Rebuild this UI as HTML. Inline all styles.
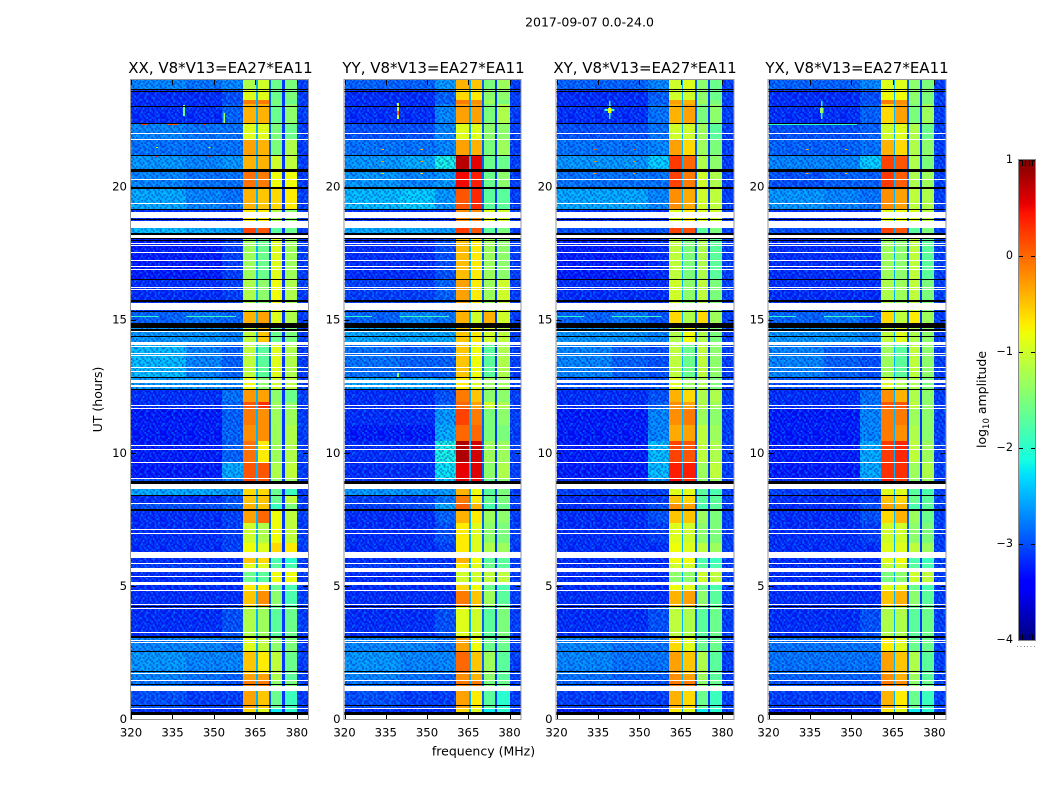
<!DOCTYPE html>
<html lang="en">
<head>
<meta charset="utf-8">
<title>2017-09-07 0.0-24.0</title>
<style>
html,body{margin:0;padding:0;background:#fff;}
svg{display:block;}
text{font-family:"DejaVu Sans","Liberation Sans",sans-serif;fill:#000;}
</style>
</head>
<body>
<svg id="chart" xmlns="http://www.w3.org/2000/svg" width="1050" height="800" viewBox="0 0 1050 800">
  <defs id="defs"></defs>
  <text x="589.5" y="26.5" font-size="12.5" text-anchor="middle">2017-09-07 0.0-24.0</text>
  <text x="483.5" y="755.5" font-size="12.5" text-anchor="middle">frequency (MHz)</text>
  <text x="0" y="0" font-size="12.5" text-anchor="middle" transform="translate(102,399.5) rotate(-90)">UT (hours)</text>
  <text x="0" y="0" font-size="12.5" text-anchor="middle" transform="translate(986,399.5) rotate(-90)">log<tspan font-size="8.5" dy="3">10</tspan><tspan dy="-3"> amplitude</tspan></text>
  <g id="panels"></g>
  <g id="colorbar"></g>
</svg>
<script>
// ---- Axis data ----
const freqEdges = [320, 340, 353, 360.5, 365.2, 365.9, 370, 370.7, 374.7, 375.6, 380, 384];
const freqTicks = [320, 335, 350, 365, 380];
const utTicks = [0, 5, 10, 15, 20];
const colorbarTicks = [1, 0, -1, -2, -3, -4];
const utEdges = [24, 23.66, 23.25, 23.1, 22.38, 21.75, 21.18, 20.54, 19.91, 19.12, 18.7, 18.25, 16.49, 15.29, 14.69, 14.16, 12.81, 12.36, 11.91, 11.64, 11.04, 10.44, 9.62, 9.05, 8.64, 8.41, 8.11, 7.81, 7.36, 6.61, 6.05, 5.86, 5.52, 5.15, 4.85, 4.21, 3.08, 2.52, 1.73, 1.43, 1.05, 0.41, 0];

// log10 amplitude per time row: [320-340, 340-353, 353-360, band1, band2, band3, band4]
const xxLevels = [
[-2.5,-2.6,-2.5,-1.2,-1.0,-1.6,-1.5],[-3,-3,-2.8,-.9,-.9,-1.6,-1.5],[-3,-3,-2.8,-.1,-.1,-1.5,-1.6],[-3,-3,-2.7,-.4,-.4,-1.6,-1.4],
[-2.5,-2.6,-2.6,-.9,-.9,-1.5,-1.6],[-2.6,-2.6,-2.6,-.3,-.4,-1.5,-1.2],[-2.4,-2.5,-2.4,-.4,-.4,-1.0,-1.1],[-2.5,-2.6,-2.6,-.05,-.1,-.8,-.8],
[-2.3,-2.5,-2.6,-.4,-.5,-.6,-.7],[-3,-3,-3,-.7,-.7,-1.2,-1.4],[-2.2,-2.3,-2.4,.2,.1,-1.7,-1.6],[-3.1,-3.1,-2.9,-1.3,-1.6,-.9,-1.3],
[-3,-3,-2.9,-1.2,-1.4,-.8,-1.2],[-2.7,-2.6,-2.7,-.4,-.3,-.9,-1.2],[-2.4,-2.4,-2.5,-1.1,-.5,-1.6,-1.5],[-2.2,-2.5,-2.7,-1.1,-1.7,-.9,-1.2],
[-2.4,-2.4,-2.5,-.8,-1.4,-1,-1.1],[-3,-3,-2.6,-.25,-.3,-1.4,-1.6],[-3,-3,-2.7,.1,.3,-1.3,-1.4],[-3.1,-3.1,-2.7,-.1,-.2,-1.3,-1.3],
[-3.1,-3.1,-2.7,-.2,-.2,-1.3,-1.2],[-3.1,-3.1,-2.7,-.05,-.7,-1.3,-1.2],[-3.1,-3.1,-2.3,.1,.1,-1.2,-1.1],[-2.8,-2.8,-2.6,.2,.1,-1.4,-1.3],
[-2.3,-2.3,-2.4,-.6,-.6,-1.6,-1.9],[-3,-3,-2.8,-.5,-.5,-1.6,-1.1],[-2.8,-2.8,-2.7,-.4,-.5,-1.9,-1.5],[-3,-3,-2.9,-.3,0,-.8,-1.1],
[-3,-3,-2.9,-1,-1.2,-.8,-1.1],[-3,-3,-2.9,-.8,-.9,-.6,-.7],[-3,-3,-3,-.5,-.6,-1.8,-2],[-2.9,-2.9,-2.9,-.9,-.9,-1.7,-1.8],
[-3,-3,-3,-1.6,-1.7,-.8,-.8],[-3,-3,-3,-.7,-.7,-1.6,-1.8],[-3,-3,-3,-.5,-.2,-1.4,-1.8],[-3,-3,-2.8,-1.2,-1.3,-1.7,-1.6],
[-2.5,-2.5,-2.6,-.9,-1.1,-1.4,-1.5],[-2.4,-2.5,-2.5,-.5,-.7,-1.1,-1.6],[-2.5,-2.6,-2.7,-.3,-.3,-1.2,-1.7],[-2.6,-2.7,-2.8,-.1,-.1,-1.4,-1.5],
[-2.8,-2.9,-2.9,-.3,-.5,-1.6,-1.9],[-3,-3,-3,-.6,-.9,-2.2,-2]];
const yyLevels = [
[-2.7,-2.7,-2.4,-.4,-.5,-1.5,-1.3],[-3,-3,-2.7,-.6,-.7,-1.4,-1.4],[-3,-3,-2.7,-.1,-.2,-1.3,-1.5],[-3,-3,-2.5,-.3,-.3,-1.5,-1.2],
[-2.8,-2.8,-2.5,-.9,-.9,-1.4,-1.4],[-2.6,-2.6,-2.5,-.3,-.4,-1.5,-1.3],[-2.4,-2.3,-1.9,.75,.55,-1.6,-1.6],[-2.4,-2.5,-2.4,.5,.4,-1.6,-1.4],
[-2.2,-2.1,-2.4,.1,.35,-1.7,-1.7],[-3,-3,-3,-.2,-.2,-.9,-1.0],[-2.3,-2.3,-2.4,.25,.1,-1.7,-1.5],[-3,-3,-2.8,-.45,-.7,-1.3,-1.4],
[-2.9,-2.9,-2.7,-.3,-.7,-1.3,-1.0],[-2.7,-2.5,-2.6,-.4,-1.0,-.4,-1.0],[-2.3,-2.3,-2.3,-.5,-.7,-1.0,-1.1],[-2.6,-2.7,-2.7,-.5,-.8,-1.7,-1.2],
[-2.3,-2.3,-2.4,-.7,-.9,-1.3,-1.3],[-3,-3,-2.8,-.1,-.5,-1.4,-1.4],[-3,-3,-2.7,0,-.3,-1.0,-1.2],[-3,-3,-2.4,.2,-.1,-1.5,-1.4],
[-3.1,-3.1,-2.3,0,0,-1.5,-1.5],[-3,-3,-1.9,.8,.65,-1.3,-1.3],[-3,-3,-2.0,.55,.6,-1.4,-1.2],[-3,-3,-2.2,.6,.5,-1.6,-1.4],
[-2.4,-2.4,-2.4,-.4,-.8,-1.7,-1.5],[-2.9,-2.9,-2.6,-.1,-.7,-1.6,-1.5],[-2.9,-2.8,-2.3,.05,-.4,-1.8,-1.6],[-3,-3,-2.7,-.4,-.7,-1.3,-1.4],
[-3,-3,-2.8,-.7,-.9,-1.4,-1.5],[-3,-3,-2.9,-.7,-.9,-1.2,-1.3],[-3,-3,-3,-.4,-.8,-1.7,-1.7],[-2.9,-2.9,-2.9,-.7,-.9,-1.6,-1.7],
[-3,-3,-3,-1,-1,-1.1,-1.1],[-3,-3,-3,-.6,-.8,-1.6,-1.8],[-3,-3,-3,-.1,-.5,-1.3,-1.7],[-3,-3,-2.8,-.9,-1.0,-1.7,-1.5],
[-2.5,-2.5,-2.6,-.3,-.8,-1.6,-1.6],[-2.4,-2.5,-2.5,0,-.5,-1.3,-1.7],[-2.5,-2.6,-2.7,-.2,-.4,-1.4,-1.7],[-2.6,-2.7,-2.8,-.1,-.1,-1.5,-1.6],
[-2.8,-2.9,-2.9,-.3,-.7,-1.7,-2.0],[-3,-3,-3,-.6,-.9,-2.2,-2]];
const xyLevels = [
[-2.7,-2.7,-2.5,-1.0,-.9,-1.4,-1.6],[-3,-3,-2.7,-1.0,-1.0,-1.4,-1.6],[-3,-3,-2.7,-.3,-.4,-1.3,-1.5],[-3,-3,-2.6,-.4,-.3,-1.5,-1.4],
[-2.8,-2.8,-2.6,-1.0,-1.0,-1.3,-1.7],[-2.6,-2.6,-2.5,-.3,-.6,-1.3,-1.5],[-2.4,-2.4,-2.1,.25,0,-1.2,-1.4],[-2.6,-2.6,-2.6,.2,-.1,-1.0,-1.2],
[-2.3,-2.3,-2.5,-.2,-.35,-1.0,-1.1],[-3,-3,-3,-.9,-.7,-.9,-1.0],[-2.8,-2.8,-2.8,.2,.15,-1.7,-1.5],[-3.1,-3.1,-3,-1.1,-1.5,-1.2,-1.7],
[-3,-3,-3,-1.0,-1.4,-1.1,-1.5],[-2.7,-2.6,-2.8,-.6,-1.2,-.6,-1.3],[-2.4,-2.4,-2.5,-1.2,-.8,-1.2,-1.5],[-2.5,-2.7,-2.8,-1.1,-1.6,-1.1,-1.4],
[-2.8,-2.8,-2.8,-.9,-1.3,-1.2,-1.5],[-3,-3,-2.8,-.4,-.6,-1.2,-1.2],[-3,-3,-2.7,-.2,-.3,-1.2,-1.3],[-3.1,-3.1,-2.5,-.2,-.1,-1.3,-1.4],
[-3.1,-3.1,-2.5,-.35,-.3,-1.1,-1.3],[-3.1,-3.1,-2.2,.2,.1,-1.1,-1.2],[-3.1,-3.1,-2.2,.4,.4,-1.3,-1.1],[-3,-3,-2.5,.5,.3,-1.4,-1.3],
[-2.9,-2.9,-2.9,-.9,-.9,-1.7,-1.8],[-3,-3,-2.9,-.5,-.6,-1.7,-1.7],[-3,-3,-2.8,-.2,-.3,-1.8,-1.7],[-3,-3,-2.8,-.5,-.5,-1.3,-1.5],
[-3,-3,-2.9,-.9,-1.0,-1.4,-1.5],[-3,-3,-3,-.8,-.9,-1.1,-1.3],[-3,-3,-3,-.8,-.8,-1.8,-1.9],[-3,-3,-3,-1,-1,-1.7,-1.8],
[-3,-3,-3,-1.4,-1.4,-1,-1.1],[-3,-3,-3,-.8,-.9,-1.6,-1.8],[-3,-3,-3,-.4,-.3,-1.4,-1.7],[-3,-3,-2.8,-1.1,-1.2,-1.7,-1.6],
[-2.5,-2.6,-2.6,-.6,-.9,-1.6,-1.6],[-2.5,-2.6,-2.6,-.3,-.5,-1.2,-1.7],[-2.6,-2.7,-2.7,-.2,-.3,-1.3,-1.7],[-2.7,-2.8,-2.8,-.1,-.1,-1.4,-1.6],
[-2.9,-2.9,-2.9,-.4,-.6,-1.6,-1.9],[-3.1,-3.1,-3,-.7,-.9,-2.2,-2]];
const yxLevels = [
[-2.7,-2.7,-2.5,-.9,-.9,-1.4,-1.5],[-3,-3,-2.8,-.8,-.8,-1.4,-1.5],[-3,-3,-2.8,-.1,-.2,-1.4,-1.5],[-3,-3,-2.7,-.6,-.3,-1.5,-1.3],
[-2.8,-2.8,-2.7,-1,-.9,-1.2,-1.6],[-2.7,-2.7,-2.6,-.4,-.6,-1.2,-1.4],[-2.5,-2.5,-2.1,.2,.1,-1.2,-1.5],[-2.8,-2.7,-2.7,.25,.05,-1.2,-1.3],
[-2.4,-2.5,-2.6,-.2,-.3,-1.1,-1.2],[-3,-3,-3,-.9,-.8,-.9,-1.1],[-2.8,-2.8,-2.8,.2,.1,-1.7,-1.5],[-3,-3,-3,-1.3,-1.4,-1.1,-1.7],
[-3,-3,-3,-1.2,-1.3,-1.1,-1.5],[-2.7,-2.6,-2.8,-.6,-1.1,-.7,-1.3],[-2.4,-2.4,-2.5,-1.1,-.9,-1.2,-1.4],[-2.5,-2.7,-2.8,-1.3,-1.7,-1.1,-1.4],
[-2.8,-2.8,-2.8,-.9,-1.2,-1.2,-1.5],[-3,-3,-2.6,-.2,-.4,-1.2,-1.4],[-3,-3,-2.6,.1,.1,-1.1,-1.4],[-3.1,-3.1,-2.5,-.1,-.1,-1.3,-1.4],
[-3.1,-3.1,-2.5,-.1,-.2,-1.2,-1.4],[-3.1,-3.1,-2.3,.25,.35,-1.1,-1.3],[-3.1,-3.1,-2.3,.3,.3,-1.3,-1.2],[-3,-3,-2.6,.4,.2,-1.4,-1.3],
[-2.9,-2.9,-2.9,-.9,-.9,-1.7,-1.8],[-3,-3,-2.9,-.5,-.6,-1.6,-1.7],[-3,-3,-2.8,-.3,-.4,-1.8,-1.7],[-3,-3,-2.8,-.6,-.4,-1.3,-1.6],
[-3,-3,-2.9,-1.0,-1.0,-1.4,-1.5],[-3,-3,-3,-.9,-.9,-1.1,-1.3],[-3,-3,-3,-.9,-.8,-1.8,-1.9],[-3,-3,-3,-1.1,-1,-1.7,-1.8],
[-3,-3,-3,-1.5,-1.4,-1,-1.1],[-3,-3,-3,-.9,-.9,-1.6,-1.8],[-3,-3,-3,-.5,-.4,-1.4,-1.7],[-3,-3,-2.8,-1.2,-1.2,-1.7,-1.6],
[-2.6,-2.6,-2.6,-.7,-.9,-1.6,-1.6],[-2.6,-2.6,-2.6,-.3,-.5,-1.2,-1.7],[-2.7,-2.7,-2.7,-.2,-.4,-1.3,-1.7],[-2.8,-2.8,-2.8,-.1,-.2,-1.4,-1.6],
[-2.9,-2.9,-2.9,-.4,-.7,-1.6,-1.9],[-3.1,-3.1,-3,-.7,-.9,-2.2,-2]];

// log10 amplitude of the three notches between bands and of the 380-384 MHz edge
const gapLevels = [-2.5, -2.9, -3.1, -3.1];

// Flagged time ranges [from hour, to hour]
const whiteFlags = [[21.97,22.01],[21.75,21.78],[20.25,20.28],[19.34,19.38],[18.82,19.04],[18.44,18.7],[18.07,18.18],[17.84,17.88],[17.77,17.8],[17.5,17.54],[17.2,17.24],[16.98,17.01],[16.86,16.9],[16.19,16.23],[16.11,16.15],[15.38,15.62],[15.29,15.34],[14.53,14.57],[14.05,14.16],[13.97,14.01],[13.71,13.75],[13.63,13.67],[13.18,13.22],[13.03,13.07],[12.62,12.73],[12.47,12.54],[11.76,11.79],[11.64,11.68],[10.25,10.29],[10.1,10.14],[9.61,9.65],[9.01,9.05],[8.64,8.83],[8.08,8.11],[7.1,7.14],[6.95,6.99],[6.05,6.27],[5.82,5.86],[5.52,5.67],[5.33,5.37],[5.03,5.15],[4.81,4.85],[4.28,4.32],[4.13,4.17],[3.23,3.27],[3.08,3.12],[2.93,2.97],[2.85,2.89],[1.69,1.73],[1.43,1.46],[1.05,1.24],[0.38,0.41],[0,0.15]];
const blackFlags = [[23.62,23.66],[23.55,23.59],[23,23.04],[22.35,22.39],[21.16,21.2],[20.6,20.64],[20.53,20.57],[19.96,20],[19.89,19.93],[19.1,19.14],[18.74,18.78],[18.18,18.27],[18.01,18.05],[17.95,17.99],[16.47,16.51],[15.68,15.72],[15.27,15.31],[14.69,14.87],[14.59,14.63],[14.33,14.37],[12.79,12.83],[12.34,12.38],[8.83,8.93],[8.39,8.43],[7.81,7.89],[4.19,4.23],[3.06,3.1],[2.5,2.54],[1.75,1.79],[1.29,1.33],[0.47,0.51],[0.15,0.26]];

// Isolated interference marks: [freq from, freq to, hour from, hour to, log10 amplitude]
const xxInterference = [[338.8,339.6,22.65,23.05,-1.6],[353.4,354,22.4,22.75,-1.3],[324,326,22.3,22.34,.2],[333,337,22.3,22.34,.1],[346,347,22.3,22.34,.3],[320,330,15.08,15.12,-2],[340,358,15.08,15.12,-1.9],[329,329.8,21.1,21.14,.4],[348,348.8,21.1,21.14,.4],[329,329.8,21.45,21.49,-.8],[348,348.8,21.45,21.49,-.8]];
const yyInterference = [[339,339.8,22.55,23.15,-1],[339,339.8,22.68,22.85,.1],[320,330,15.08,15.12,-2],[340,358,15.08,15.12,-1.9],[333.4,334.4,21.38,21.42,-.4],[347.6,348.6,21.38,21.42,-.4],[333.4,334.4,20.93,20.97,-.4],[347.6,348.6,20.93,20.97,-.4],[333.4,334.4,20.48,20.52,-.6],[347.6,348.6,20.48,20.52,-.6],[339,339.8,12.8,12.98,-1.4]];
const xyInterference = [[339,339.5,22.55,23.2,-2],[337.4,341,22.82,22.9,-1.9],[338.7,339.9,22.76,22.96,-.8],[320,330,15.08,15.12,-2],[340,358,15.08,15.12,-1.9],[333.4,334.4,21.38,21.42,.1],[347.6,348.6,21.38,21.42,.1],[333.4,334.4,20.93,20.97,-.2],[347.6,348.6,20.93,20.97,-.2],[333.4,334.4,20.48,20.52,-.2],[347.6,348.6,20.48,20.52,-.2]];
const yxInterference = [[339,339.6,22.55,23.2,-2],[338.6,339.9,22.76,22.96,-1.3],[320,330,15.08,15.12,-2],[340,358,15.08,15.12,-1.9],[333.4,334.4,21.38,21.42,-.4],[347.6,348.6,21.38,21.42,-.4],[320,352,22.3,22.33,-2],[333.4,334.4,20.48,20.52,-.4],[347.6,348.6,20.48,20.52,-.4]];

const panelLabels = ['XX, V8*V13=EA27*EA11', 'YY, V8*V13=EA27*EA11', 'XY, V8*V13=EA27*EA11', 'YX, V8*V13=EA27*EA11'];
const panelLevels = [xxLevels, yyLevels, xyLevels, yxLevels];
const panelInterference = [xxInterference, yyInterference, xyInterference, yxInterference];

// Background grain texture (0 dark, 1 none, 2 light, 3 bright); purely visual, not data.
const grainTile = [
'1021130121013201','0112013102210110','2101201130120312','1013102011021201',
'0120113210130120','1201021012012103','2110130102310211','0132012110201021',
'1201103120121302','2011210013012011','1102031201102120','3120112021301012',
'0211301120120203','1102012031021120','2013120102113012','1120201310120201'];

// ---- Layout (pixels) ----
const plotTop = 80, plotBottom = 719;
const panelLeft = [131, 344.5, 556.5, 768.5];
const panelRight = [308, 520.5, 733.5, 945.5];
const titleCenter = [220.5, 433.5, 645, 857];
const cbLeft = 1019, cbRight = 1035, cbTop = 160, cbBottom = 640;
// Quiet-sky columns sit slightly below the row means once the grain brightens them.
const quietColumnBias = -0.2;
const NS = 'http://www.w3.org/2000/svg';
const chart = document.getElementById('chart');
const panelsG = document.getElementById('panels');
const cbG = document.getElementById('colorbar');

function svgEl(tag, attrs, parent) {
  const el = document.createElementNS(NS, tag);
  for (const k in attrs) el.setAttribute(k, attrs[k]);
  parent.appendChild(el);
  return el;
}
function lerpStops(stops, t) {
  if (t <= stops[0][0]) return stops[0][1];
  for (let i = 1; i < stops.length; i++) {
    if (t <= stops[i][0]) {
      const a = stops[i - 1], b = stops[i];
      return a[1] + (b[1] - a[1]) * (t - a[0]) / (b[0] - a[0]);
    }
  }
  return stops[stops.length - 1][1];
}
const jetR = [[0,0],[.35,0],[.66,1],[.89,1],[1,.5]];
const jetG = [[0,0],[.125,0],[.375,1],[.64,1],[.91,0],[1,0]];
const jetB = [[0,.5],[.11,1],[.34,1],[.65,0],[1,0]];
function colorOf(v) {
  const t = Math.min(1, Math.max(0, (v + 4) / 5));
  const c = s => Math.round(255 * lerpStops(s, t));
  return 'rgb(' + c(jetR) + ',' + c(jetG) + ',' + c(jetB) + ')';
}
function yOf(hour) {
  return plotBottom - hour * (plotBottom - plotTop) / 24;
}
function xOf(panel, freq) {
  return panelLeft[panel] + (freq - 320) * (panelRight[panel] - panelLeft[panel]) / 64;
}

// Grain pattern
const defs = document.getElementById('defs');
const cellW = 1.7, cellH = 1.8;
const pattern = svgEl('pattern', {id: 'grain', patternUnits: 'userSpaceOnUse', width: cellW * 16, height: cellH * 16}, defs);
const grainFill = {0: 'rgba(0,0,170,.45)', 2: 'rgba(0,150,255,.35)', 3: 'rgba(0,230,255,.4)'};
grainTile.forEach((line, j) => {
  for (let i = 0; i < line.length; i++) {
    if (line[i] !== '1') svgEl('rect', {x: i * cellW, y: j * cellH, width: cellW, height: cellH, fill: grainFill[line[i]]}, pattern);
  }
});

// Band/gap order across frequency columns: >=0 row value index, <0 gapLevels index
const columnSource = [0, 1, 2, 3, -1, 4, -2, 5, -3, 6, -4];

panelLabels.forEach((label, p) => {
  const g = svgEl('g', {'shape-rendering': 'crispEdges'}, panelsG);
  
  
  const L = panelLeft[p], R = panelRight[p];

  // Heatmap cells
  panelLevels[p].forEach((row, r) => {
    columnSource.forEach((src, c) => {
      const raw = src >= 0 ? row[src] : gapLevels[-src - 1];
      const v = (src >= 0 && src <= 2) ? raw + quietColumnBias : raw;
      const x0 = Math.round(xOf(p, freqEdges[c])), x1 = Math.round(xOf(p, freqEdges[c + 1]));
      const y0 = Math.round(yOf(utEdges[r])), y1 = Math.round(yOf(utEdges[r + 1]));
      const cell = svgEl('rect', {x: x0, y: y0, width: x1 - x0, height: y1 - y0, fill: colorOf(v)}, g);
      
      
    });
  });

  // Grain over the quiet background only
  const gx = Math.round(xOf(p, 360.5)), gr = Math.round(xOf(p, 380));
  const grainLeft = svgEl('rect', {x: L, y: plotTop, width: gx - L, height: plotBottom - plotTop, fill: 'url(#grain)'}, g);
  
  
  const grainRight = svgEl('rect', {x: gr, y: plotTop, width: R - gr, height: plotBottom - plotTop, fill: 'url(#grain)'}, g);
  
  

  // Interference marks
  panelInterference[p].forEach(m => {
    const y0 = Math.round(yOf(m[3]));
    const h = Math.max(1, Math.round(yOf(m[2])) - y0);
    const mark = svgEl('rect', {x: xOf(p, m[0]), y: y0, width: xOf(p, m[1]) - xOf(p, m[0]), height: h, fill: colorOf(m[4])}, g);
    
    
  });

  // Flags (snapped to whole pixels so one-pixel rows stay solid)
  whiteFlags.forEach(f => {
    const y0 = Math.round(yOf(f[1]));
    const h = Math.max(1, Math.round(yOf(f[0])) - y0);
    const flag = svgEl('rect', {x: L, y: y0, width: R - L, height: h, fill: '#fff'}, g);
    
    
  });
  blackFlags.forEach(f => {
    const y0 = Math.round(yOf(f[1]));
    const h = Math.max(1, Math.round(yOf(f[0])) - y0);
    const flag = svgEl('rect', {x: L, y: y0, width: R - L, height: h, fill: '#000'}, g);
    
    
  });

  // Ticks
  freqTicks.forEach(t => {
    const x = Math.round(xOf(p, t)) + .5;
    const top = svgEl('line', {x1: x, x2: x, y1: plotTop, y2: plotTop + 5, stroke: '#000'}, g);
    
    
    const bot = svgEl('line', {x1: x, x2: x, y1: plotBottom - 5, y2: plotBottom, stroke: '#000'}, g);
    
    
    const lab = svgEl('text', {x: xOf(p, t), y: 736.5, 'font-size': 11.7, 'text-anchor': 'middle'}, panelsG);
    lab.textContent = t;
    
    
  });
  utTicks.forEach(t => {
    const y = Math.round(yOf(t)) + .5;
    const left = svgEl('line', {x1: L, x2: L + 5, y1: y, y2: y, stroke: '#000'}, g);
    
    
    const right = svgEl('line', {x1: R - 5, x2: R, y1: y, y2: y, stroke: '#000'}, g);
    
    
    const lab = svgEl('text', {x: L - 4, y: yOf(t) + 4, 'font-size': 11.7, 'text-anchor': 'end'}, panelsG);
    lab.textContent = t;
    
    
  });

  // Frame
  const frame = svgEl('rect', {x: L - .5, y: plotTop - .5, width: R - L + 1, height: plotBottom - plotTop + 1, fill: 'none', stroke: '#999', 'stroke-width': 1}, g);
  
  

  // Title
  const title = svgEl('text', {x: titleCenter[p], y: 73, 'font-size': 15, 'text-anchor': 'middle'}, panelsG);
  title.textContent = label;
  
  
});

// ---- Colorbar ----
function cbY(v) {
  return cbBottom - (v + 4) * (cbBottom - cbTop) / 5;
}
const cbSteps = 160;
for (let i = 0; i < cbSteps; i++) {
  const v0 = -4 + 5 * i / cbSteps, v1 = -4 + 5 * (i + 1) / cbSteps;
  const seg = svgEl('rect', {x: cbLeft, y: cbY(v1), width: cbRight - cbLeft, height: cbY(v0) - cbY(v1) + .4, fill: colorOf((v0 + v1) / 2), 'shape-rendering': 'crispEdges'}, cbG);
  
  
}
colorbarTicks.forEach(t => {
  const y = Math.round(cbY(t)) + .5;
  const a = svgEl('line', {x1: cbLeft, x2: cbLeft + 4, y1: y, y2: y, stroke: '#000', 'shape-rendering': 'crispEdges'}, cbG);
  
  
  const b = svgEl('line', {x1: cbRight - 4, x2: cbRight, y1: y, y2: y, stroke: '#000', 'shape-rendering': 'crispEdges'}, cbG);
  
  
  const lab = svgEl('text', {x: 1013, y: cbY(t) + 3, 'font-size': 11.2, 'text-anchor': 'end'}, cbG);
  lab.textContent = t < 0 ? '\u2212' + Math.abs(t) : String(t);
  
  
});
[1022, 1025, 1029, 1032].forEach(x => {
  const up = svgEl('line', {x1: x + .5, x2: x + .5, y1: cbTop, y2: cbTop + 6, stroke: '#000', 'shape-rendering': 'crispEdges'}, cbG);
  
  
  const dn = svgEl('line', {x1: x + .5, x2: x + .5, y1: cbBottom - 6, y2: cbBottom, stroke: '#000', 'shape-rendering': 'crispEdges'}, cbG);
  
  
});
const cbFrame = svgEl('rect', {x: cbLeft - .5, y: cbTop - .5, width: cbRight - cbLeft + 1, height: cbBottom - cbTop + 1, fill: 'none', stroke: '#888', 'stroke-width': 1, 'shape-rendering': 'crispEdges'}, cbG);


[1017, 1020.5, 1024, 1027, 1030.5, 1034].forEach(x => {
  const dot = svgEl('rect', {x: x, y: 646, width: 1, height: 1, fill: '#888'}, cbG);
  
  
});
</script>
</body>
</html>
